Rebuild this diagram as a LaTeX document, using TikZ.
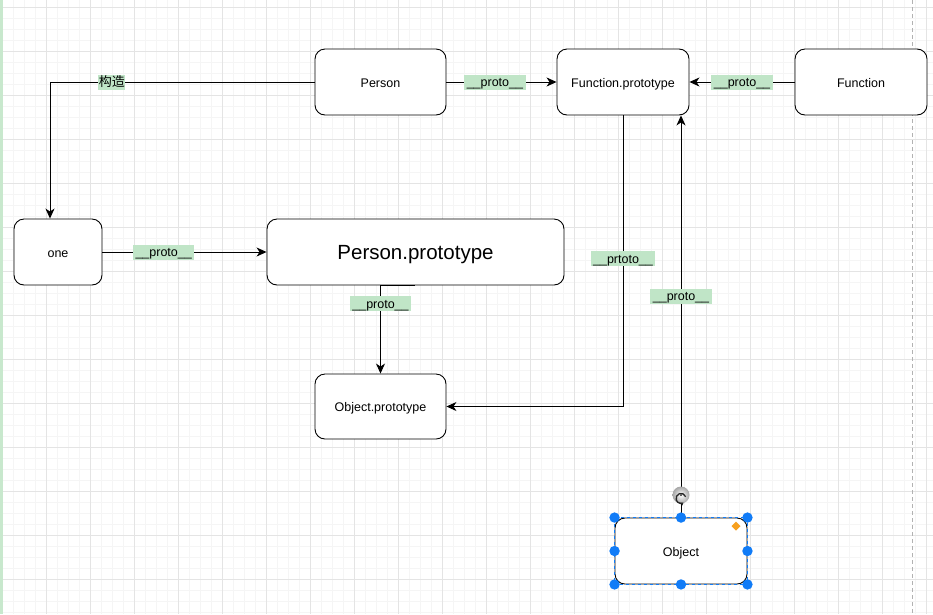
\documentclass[tikz,border=0pt]{standalone}
\usepackage{fontspec}
\setmainfont{Liberation Sans}
\newfontfamily\cjkfont{Noto Sans CJK SC}
\usetikzlibrary{arrows.meta}
\definecolor{lblgreen}{RGB}{192,229,199}
\definecolor{gridminor}{RGB}{245,245,245}
\definecolor{gridmajor}{RGB}{228,228,228}
\definecolor{handleblue}{RGB}{17,124,247}
\definecolor{handleorange}{RGB}{247,160,30}
\definecolor{leftgreen}{RGB}{200,232,205}
\begin{document}
\begin{tikzpicture}[x=1pt,y=-1pt,
  box/.style={draw=black, line width=0.9pt, rounded corners=10pt, fill=white, inner sep=0pt,
    minimum height=66pt, font=\fontsize{12.5}{14}\selectfont, text=black,
    text height=11pt, text depth=1pt},
  edge/.style={draw=black, line width=1pt, -{Stealth[length=10pt,width=9pt,inset=3pt]}},
  lbl/.style={fill=lblgreen, inner xsep=2.5pt, inner ysep=0.5pt, minimum height=15pt,
    text height=11.5pt, text depth=2.5pt, font=\fontsize{12.5}{14}\selectfont, text=black},
  handle/.style={fill=handleblue, draw=none},
]
% background and grid
\fill[white] (0,0) rectangle (933,614);
\useasboundingbox (0,0) rectangle (933,614);
\foreach \i in {0,...,85} \draw[gridminor, line width=0.8pt] ({2+11*\i},0) -- ({2+11*\i},614);
\foreach \j in {0,...,55} \draw[gridminor, line width=0.8pt] (0,{7+11*\j}) -- (933,{7+11*\j});
\foreach \i in {0,...,21} \draw[gridmajor, line width=0.8pt] ({2+44*\i},0) -- ({2+44*\i},614);
\foreach \j in {0,...,13} \draw[gridmajor, line width=0.8pt] (0,{7+44*\j}) -- (933,{7+44*\j});
\fill[leftgreen] (0,0) rectangle (3,614);
\draw[black!30, line width=0.8pt, dash pattern=on 4pt off 3pt] (912,0) -- (912,614);

% nodes
\node[box, minimum width=131pt] (person) at (380.5,82) {Person};
\node[box, minimum width=132pt] (fp) at (623,82) {Function.prototype};
\node[box, minimum width=132pt] (function) at (861,82) {Function};
\node[box, minimum width=88pt] (one) at (58,252) {one};
\node[box, minimum width=297pt, font=\fontsize{20.5}{24}\selectfont, text height=17pt, text depth=3pt] (pp) at (415.5,252) {Person.prototype};
\node[box, minimum width=131pt, minimum height=65pt] (op) at (380.5,406.5) {Object.prototype};
\node[box, minimum width=132pt] (object) at (681,551) {Object};

% small artifact under Person.prototype
\draw[black, line width=0.9pt] (op.north |- pp.south) -- ++(34,0);

% connectors
\draw[edge] (person.west) -| node[lbl, pos=0.383, font=\cjkfont\fontsize{13}{15}\selectfont, inner xsep=0.5pt, text height=11pt, text depth=3pt] {构造} ([xshift=-8pt]one.north);
\draw[edge] (one.east) -- node[lbl, pos=0.373] {\_\_proto\_\_} (pp.west);
\draw[edge] (person.east) -- node[lbl, pos=0.44] {\_\_proto\_\_} (fp.west);
\draw[edge] (function.west) -- node[lbl, pos=0.5] {\_\_proto\_\_} (fp.east);
\draw[edge] (op.north |- pp.south) -- node[lbl, pos=0.208] {\_\_proto\_\_} (op.north);
\draw[edge] (fp.south) |- node[lbl, pos=0.246] {\_\_prtoto\_\_} (op.east);
\draw[edge] (object.north) -- node[lbl, pos=0.55] {\_\_proto\_\_} (object.north |- fp.south);

% selection decorations on Object
\draw[handleblue, line width=0.8pt, dash pattern=on 3pt off 3pt] (object.north west) rectangle (object.south east);
\foreach \a in {north west, north, north east, west, east, south west, south, south east}
  \fill[handle] (object.\a) circle (5.2pt);
\fill[handleorange] (736,521.5) -- (740.5,526) -- (736,530.5) -- (731.5,526) -- cycle;
\shade[inner color=white, outer color=black!35] (681,495) circle (8.5pt);
\draw[black!85, line width=1.3pt, -{Stealth[length=3pt,width=4pt]}] (681,495) ++(20:5) arc[start angle=20, end angle=300, radius=5pt];
\fill[black!85] (681,495) circle (1pt);
\end{tikzpicture}
\end{document}
